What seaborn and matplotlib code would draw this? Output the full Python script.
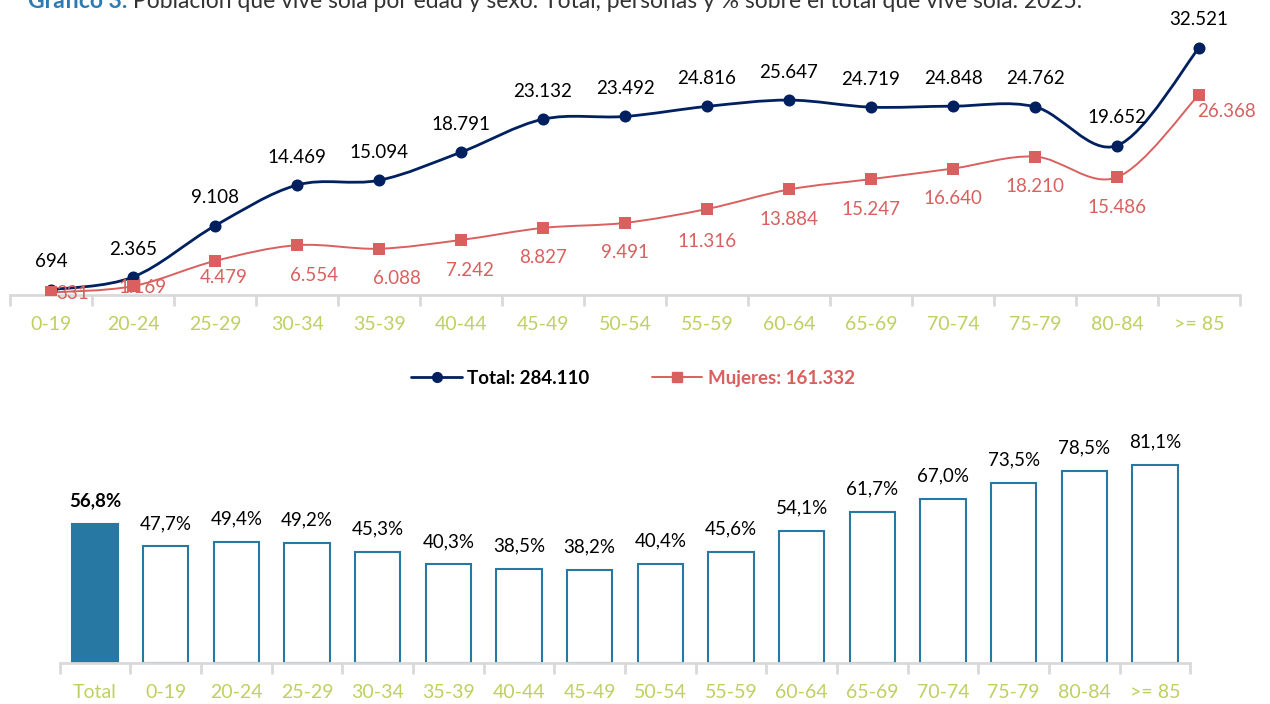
import numpy as np
import matplotlib
matplotlib.use("Agg")
import matplotlib.pyplot as plt
import seaborn as sns
from matplotlib.path import Path
from matplotlib.patches import PathPatch
from matplotlib.lines import Line2D

# Data
ages = ["0-19", "20-24", "25-29", "30-34", "35-39", "40-44", "45-49", "50-54",
        "55-59", "60-64", "65-69", "70-74", "75-79", "80-84", ">= 85"]
total = [694, 2365, 9108, 14469, 15094, 18791, 23132, 23492,
         24816, 25647, 24719, 24848, 24762, 19652, 32521]
mujeres = [331, 1169, 4479, 6554, 6088, 7242, 8827, 9491,
           11316, 13884, 15247, 16640, 18210, 15486, 26368]
total_label = "Total: 284.110"
mujeres_label = "Mujeres: 161.332"

bar_cats = ["Total"] + ages
bar_pct = [56.8, 47.7, 49.4, 49.2, 45.3, 40.3, 38.5, 38.2, 40.4,
           45.6, 54.1, 61.7, 67.0, 73.5, 78.5, 81.1]

title_bold = "Gráfico 3."
title_rest = " Población que vive sola por edad y sexo. Total, personas y % sobre el total que vive sola. 2025."

# Style
NAVY = "#002060"
RED = "#d9605e"
BLUE = "#2878a4"
GREEN = "#bdd160"
GRAY = "#d9d9d9"

sns.set_theme(style="white")
plt.rcParams["font.family"] = ["Lato", "DejaVu Sans"]
FS = 13.5
TICK_FS = 14


def fmt_thousands(v):
    return f"{v:,}".replace(",", ".")


def smooth_path(xs, ys):
    # Catmull-Rom style Bezier through the points (like Excel smoothed lines)
    pts = np.column_stack([xs, ys]).astype(float)
    n = len(pts)
    verts = [pts[0]]
    codes = [Path.MOVETO]
    for i in range(n - 1):
        p0 = pts[i - 1] if i > 0 else pts[i]
        p1 = pts[i]
        p2 = pts[i + 1]
        p3 = pts[i + 2] if i + 2 < n else pts[i + 1]
        c1 = p1 + (p2 - p0) / 6
        c2 = p2 - (p3 - p1) / 6
        verts += [c1, c2, p2]
        codes += [Path.CURVE4] * 3
    return Path(verts, codes)


def style_axis(ax, n):
    ax.set_xlim(-0.5, n - 0.5)
    for s in ["top", "right", "left"]:
        ax.spines[s].set_visible(False)
    ax.spines["bottom"].set_color(GRAY)
    ax.spines["bottom"].set_linewidth(2)
    ax.set_yticks([])
    ax.set_ylabel("")
    ax.set_xlabel("")
    ax.set_xticks(range(n))
    ax.set_xticks(np.arange(-0.5, n, 1), minor=True)
    ax.tick_params(axis="x", which="major", length=0, pad=15,
                   labelsize=TICK_FS, labelcolor=GREEN)
    ax.tick_params(axis="x", which="minor", length=8, width=2,
                   color=GRAY, direction="out", bottom=True)


fig = plt.figure(figsize=(12.7, 7.04), dpi=100)

# Title (partly cut by the top edge, as in the source)
t1 = fig.text(28 / 1270, 1 - 1 / 704, title_bold, fontsize=16.5, fontweight="bold",
              color="#2e7bb4", va="center", ha="left")
fig.canvas.draw()
bb = t1.get_window_extent(fig.canvas.get_renderer())
fig.text(bb.x1 / 1270, 1 - 1 / 704, title_rest, fontsize=16.5, color="#333333",
         va="center", ha="left")

# Top chart: lines
ax1 = fig.add_axes([10 / 1270, 1 - 295 / 704, 1230 / 1270, 266 / 704])
x = np.arange(len(ages))
ax1.add_patch(PathPatch(smooth_path(x, total), fill=False, edgecolor=NAVY, lw=2, zorder=2))
ax1.add_patch(PathPatch(smooth_path(x, mujeres), fill=False, edgecolor=RED, lw=1.4, zorder=2))
sns.scatterplot(x=x, y=total, ax=ax1, marker="o", s=75, color=NAVY,
                edgecolor=NAVY, linewidth=0, zorder=3)
sns.scatterplot(x=x, y=mujeres, ax=ax1, marker="s", s=65, color=RED,
                edgecolor=RED, linewidth=0, zorder=3)
ax1.set_ylim(0, 35000)
style_axis(ax1, len(ages))
ax1.set_xticklabels(ages)

for i, v in enumerate(total):
    ax1.annotate(fmt_thousands(v), (i, v), xytext=(0, 28 * 0.72), textcoords="offset points",
                 ha="center", va="center", fontsize=FS, color="black")

# label offsets in pixels for the women series
m_dx = [22, 10, 9, 17, 18, 9, 0, 0, 0, 0, 0, 0, 0, 0, 27]
m_dy = [-1, -1, -17, -30, -30, -31, -30, -30, -33, -30, -30, -30, -30, -30, -17]
for i, v in enumerate(mujeres):
    ax1.annotate(fmt_thousands(v), (i, v), xytext=(m_dx[i] * 0.72, m_dy[i] * 0.72),
                 textcoords="offset points", ha="center", va="center",
                 fontsize=FS, color=RED, zorder=4)

# Legend
handles = [Line2D([], [], color=NAVY, lw=2, marker="o", markersize=7),
           Line2D([], [], color=RED, lw=1.4, marker="s", markersize=7)]
leg = fig.legend(handles, [total_label, mujeres_label], loc="center",
                 bbox_to_anchor=(633 / 1270, 1 - 378 / 704), ncol=2, frameon=False,
                 prop={"weight": "bold", "size": FS}, handlelength=2.7,
                 columnspacing=3.3, handletextpad=0.3)
leg.get_texts()[0].set_color("black")
leg.get_texts()[1].set_color(RED)

# Bottom chart: bars
ax2 = fig.add_axes([59.7 / 1270, 41 / 704, 1130.6 / 1270, 220 / 704])
colors = [BLUE] + ["white"] * len(ages)
sns.barplot(x=bar_cats, y=bar_pct, hue=bar_cats, palette=colors, legend=False,
            ax=ax2, width=0.64, saturation=1)
for p in ax2.patches:
    p.set_edgecolor(BLUE)
    p.set_linewidth(1.5)
ax2.set_ylim(0, 90)
style_axis(ax2, len(bar_cats))
ax2.set_xticklabels(bar_cats)

for i, v in enumerate(bar_pct):
    ax2.annotate(f"{v:.1f}%".replace(".", ","), (i, v), xytext=(0, 23 * 0.72),
                 textcoords="offset points", ha="center", va="center", fontsize=FS,
                 color="black", fontweight="bold" if i == 0 else "normal")

fig.savefig("out.png", dpi=100)
